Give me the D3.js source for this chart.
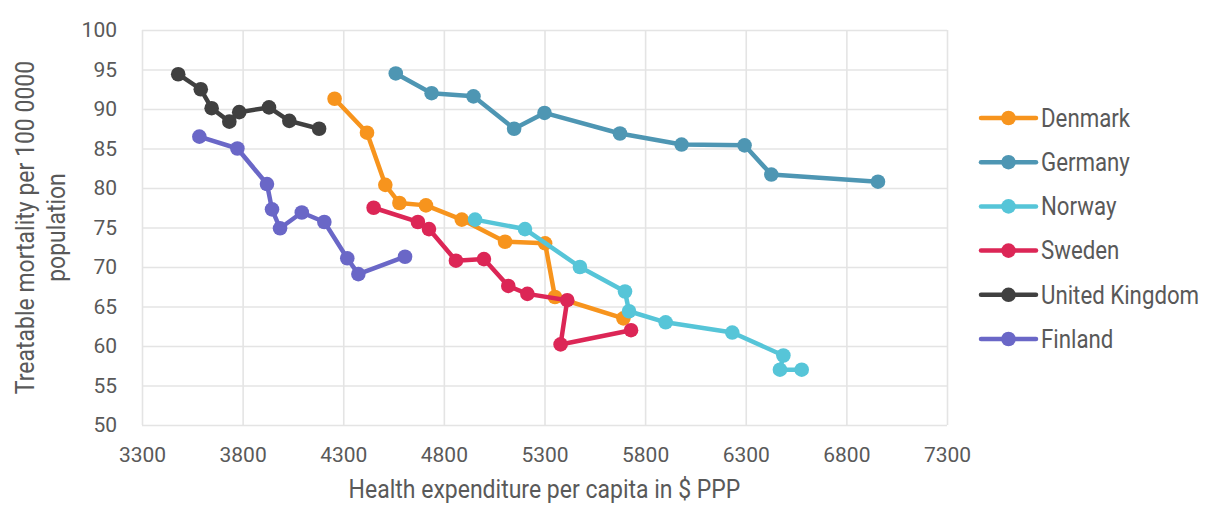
<!DOCTYPE html>
<html>
<head>
<meta charset="utf-8">
<script src="https://cdn.jsdelivr.net/npm/d3@7"></script>
<style>
  html, body { margin: 0; padding: 0; background: #fff; }
  svg { display: block; font-family: Roboto, "Liberation Sans", sans-serif; }
</style>
</head>
<body>
<svg id="chart" width="1207" height="505"></svg>
<script>
// Health expenditure per capita ($ PPP) vs treatable mortality, by country and year
const countries = ["Denmark", "Germany", "Norway", "Sweden", "United Kingdom", "Finland"];
const colors = ["#f7941d", "#4e96b3", "#56c5d8", "#dc2656", "#404040", "#6a67c7"];

const denmarkSpend = [4257, 4418, 4509, 4579, 4711, 4889, 5104, 5303, 5352, 5692];
const denmarkMort  = [91.3, 87.0, 80.4, 78.1, 77.8, 76.0, 73.2, 73.0, 66.2, 63.5];

const germanySpend = [4561, 4739, 4947, 5149, 5300, 5675, 5981, 6294, 6427, 6957];
const germanyMort  = [94.5, 92.0, 91.6, 87.5, 89.5, 86.9, 85.5, 85.4, 81.7, 80.8];

const norwaySpend = [4955, 5203, 5476, 5700, 5720, 5902, 6233, 6487, 6470, 6578];
const norwayMort  = [76.0, 74.8, 70.0, 66.9, 64.4, 63.0, 61.7, 58.8, 57.0, 57.0];

const swedenSpend = [4451, 4671, 4726, 4860, 4999, 5120, 5215, 5413, 5380, 5730];
const swedenMort  = [77.5, 75.7, 74.8, 70.8, 71.0, 67.6, 66.6, 65.8, 60.2, 62.0];

const ukSpend = [3480, 3592, 3646, 3734, 3783, 3931, 4032, 4180];
const ukMort  = [94.4, 92.5, 90.1, 88.4, 89.6, 90.2, 88.5, 87.5];

const finlandSpend = [3585, 3774, 3921, 3946, 3986, 4094, 4206, 4320, 4375, 4607];
const finlandMort  = [86.5, 85.0, 80.5, 77.3, 74.9, 76.9, 75.7, 71.1, 69.1, 71.3];

const xTicks = [3300, 3800, 4300, 4800, 5300, 5800, 6300, 6800, 7300];
const yTicks = [50, 55, 60, 65, 70, 75, 80, 85, 90, 95, 100];

const xTitle = "Health expenditure per capita in $ PPP";
const yTitleLines = ["Treatable mortality per 100 0000", "population"];

const spendSeries = [denmarkSpend, germanySpend, norwaySpend, swedenSpend, ukSpend, finlandSpend];
const mortSeries  = [denmarkMort, germanyMort, norwayMort, swedenMort, ukMort, finlandMort];

const series = countries.map((name, i) => ({
  name,
  color: colors[i],
  points: spendSeries[i].map((s, j) => ({ x: s, y: mortSeries[i][j] }))
}));

// Layout
const plot = { left: 142, right: 947, top: 30, bottom: 425 };
const textColor = "#595959";
const gridColor = "#e4e4e4";
const tickFont = 21;
const titleFont = 25;
const condense = 0.92;   // horizontal squeeze for a narrower title face

const svg = d3.select("#chart");

const x = d3.scaleLinear().domain([3300, 7300]).range([plot.left, plot.right]);
const y = d3.scaleLinear().domain([50, 100]).range([plot.bottom, plot.top]);

// Vertical gridlines + x tick labels
const gx = svg.append("g")
  .attr("transform", `translate(0,${plot.bottom})`)
  .call(d3.axisBottom(x).tickValues(xTicks).tickFormat(d3.format("d"))
    .tickSize(-(plot.bottom - plot.top)).tickPadding(22));
gx.select(".domain").remove();
gx.selectAll(".tick line").attr("stroke", gridColor).attr("stroke-width", 1.6);
gx.selectAll(".tick text").attr("fill", textColor).attr("font-size", tickFont)
  .attr("font-family", "Roboto, sans-serif");

// Horizontal gridlines + y tick labels
const gy = svg.append("g")
  .attr("transform", `translate(${plot.left},0)`)
  .call(d3.axisLeft(y).tickValues(yTicks).tickFormat(d3.format("d"))
    .tickSize(-(plot.right - plot.left)).tickPadding(25));
gy.select(".domain").remove();
gy.selectAll(".tick line").attr("stroke", gridColor).attr("stroke-width", 1.6);
gy.selectAll(".tick text").attr("fill", textColor).attr("font-size", tickFont)
  .attr("font-family", "Roboto, sans-serif");

// Axis titles
svg.append("text")
  .attr("transform", `translate(${(plot.left + plot.right) / 2},498) scale(${condense},1)`)
  .attr("text-anchor", "middle")
  .attr("fill", textColor)
  .attr("font-size", titleFont)
  .text(xTitle);

const yTitle = svg.append("text")
  .attr("transform", `translate(0,${(plot.top + plot.bottom) / 2}) rotate(-90) scale(${condense},1)`)
  .attr("text-anchor", "middle")
  .attr("fill", textColor)
  .attr("font-size", titleFont);
yTitleLines.forEach((line, i) => {
  yTitle.append("tspan").attr("x", 0).attr("y", 34 + i * 31).text(line);
});

// Series lines and markers
const line = d3.line().x(d => x(d.x)).y(d => y(d.y));

const groups = svg.append("g").selectAll("g.series")
  .data(series).join("g").attr("class", "series");

groups.append("path")
  .attr("d", d => line(d.points))
  .attr("fill", "none")
  .attr("stroke", d => d.color)
  .attr("stroke-width", 4.5)
  .attr("stroke-linejoin", "round");

groups.each(function (d) {
  d3.select(this).selectAll("circle")
    .data(d.points).join("circle")
    .attr("cx", p => x(p.x))
    .attr("cy", p => y(p.y))
    .attr("r", 7.3)
    .attr("fill", d.color);
});

// Legend
const legend = svg.append("g").attr("transform", "translate(981,118)");
const rowGap = 44.2;
const items = legend.selectAll("g").data(series).join("g")
  .attr("transform", (d, i) => `translate(0,${i * rowGap})`);
items.append("line")
  .attr("x1", 0).attr("x2", 55)
  .attr("stroke", d => d.color).attr("stroke-width", 4.5)
  .attr("stroke-linecap", "round");
items.append("circle")
  .attr("cx", 27.5).attr("r", 7.3)
  .attr("fill", d => d.color);
items.append("text")
  .attr("transform", "translate(60,0) scale(0.89,1)")
  .attr("dy", "0.35em")
  .attr("fill", textColor)
  .attr("font-size", titleFont)
  .text(d => d.name);
</script>
</body>
</html>
